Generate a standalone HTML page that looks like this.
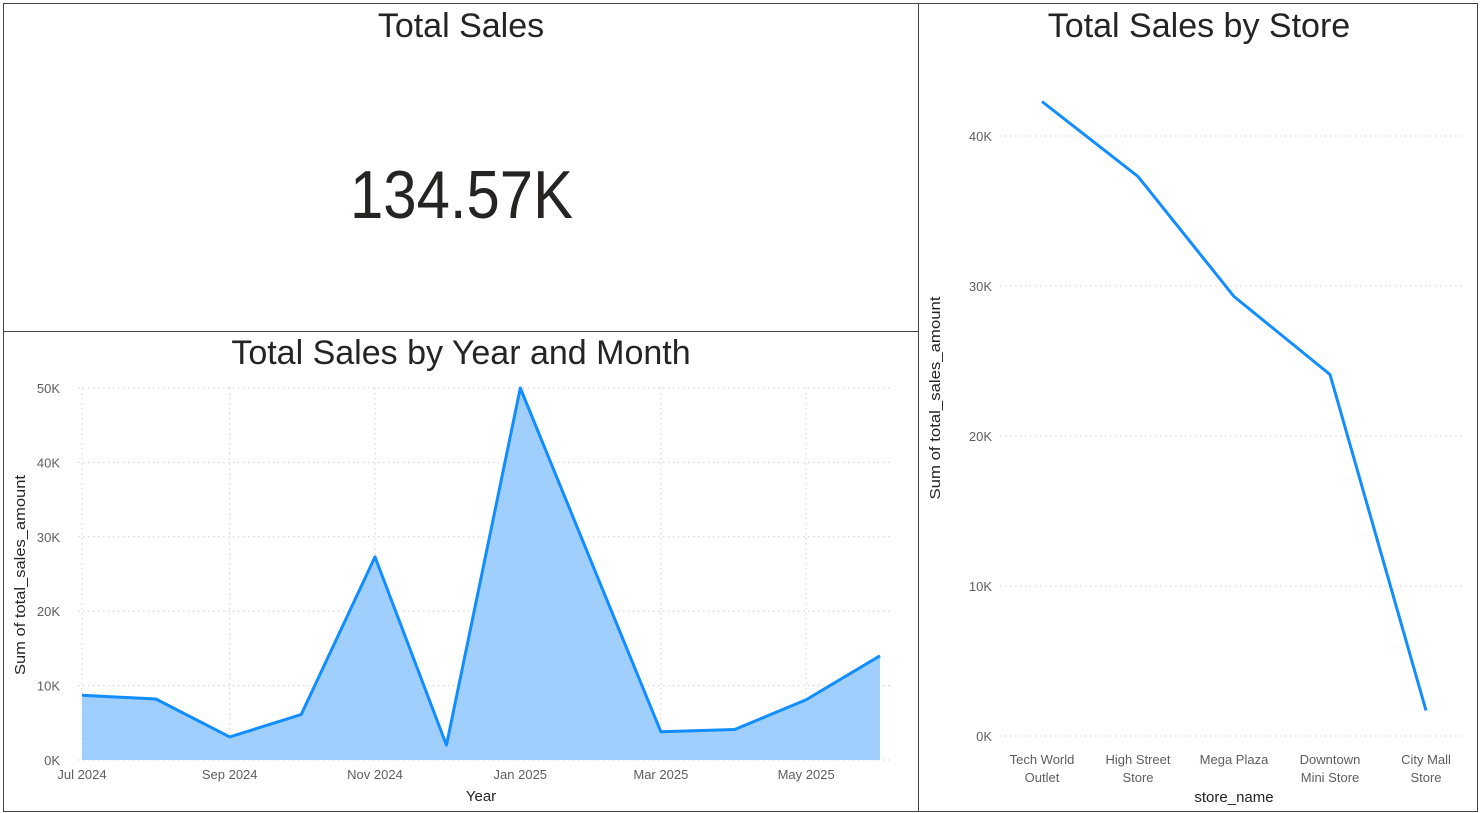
<!DOCTYPE html>
<html><head><meta charset="utf-8">
<style>
html,body{margin:0;padding:0;background:#fff;}
svg{display:block;font-family:"Liberation Sans",sans-serif;}
.title{font-family:"Liberation Sans Narrow","Liberation Sans",sans-serif;font-size:34px;fill:#252423;text-anchor:middle;}
.tick{font-size:13px;fill:#605e5c;}
.grid{stroke:#d0d0d0;stroke-width:1;stroke-dasharray:1.5 3.5;}
</style></head>
<body>
<svg id="svg" width="1480" height="813" viewBox="0 0 1480 813">
<rect x="3.5" y="3.5" width="915" height="328" fill="#fff" stroke="#444"/>
<rect x="3.5" y="331.5" width="915" height="480" fill="#fff" stroke="#444"/>
<rect x="918.5" y="3.5" width="559" height="808" fill="#fff" stroke="#444"/>
<text class="title" x="461" y="37">Total Sales</text>
<text x="350" y="218" textLength="223" lengthAdjust="spacingAndGlyphs" style="font-family:'Liberation Sans Narrow','Liberation Sans',sans-serif;font-size:68px;fill:#252423">134.57K</text>
<text class="title" x="461" y="364">Total Sales by Year and Month</text>
<text class="title" x="1199" y="37">Total Sales by Store</text>
<g id="left"></g>
<g id="right"></g>
</svg>
<script>
const months = ["Jul 2024","Aug 2024","Sep 2024","Oct 2024","Nov 2024","Dec 2024","Jan 2025","Feb 2025","Mar 2025","Apr 2025","May 2025","Jun 2025"];
const monthSales = [8.7,8.2,3.1,6.1,27.3,2.0,50.0,25.7,3.8,4.1,8.1,14.0];
const monthTicks = [0,10,20,30,40,50];
const monthLabelIdx = [0,2,4,6,8,10];
const stores = [["Tech World","Outlet"],["High Street","Store"],["Mega Plaza"],["Downtown","Mini Store"],["City Mall","Store"]];
const storeSales = [42.3,37.3,29.3,24.1,1.7];
const storeTicks = [0,10,20,30,40];

const NS="http://www.w3.org/2000/svg";
function mk(parent,tag,attrs,text){const e=document.createElementNS(NS,tag);for(const k in attrs)e.setAttribute(k,attrs[k]);if(text!==undefined)e.textContent=text;parent.appendChild(e);return e;}

// left chart - time axis by day
const dayOf=m=>{const d=new Date(m.replace(' ',' 1, '));return d.getTime()/86400000;};
const d0=dayOf(months[0]), d1=dayOf(months[months.length-1]);
const lx=i=>82+(dayOf(months[i])-d0)/(d1-d0)*(880-82);
const ly=v=>760-v*(372/50);
const L=document.getElementById('left');
monthTicks.forEach(t=>{
  const g=mk(L,'line',{x1:78,x2:892,y1:ly(t),y2:ly(t),class:'grid'});
  
  
  const tx=mk(L,'text',{x:60,y:ly(t)+5,class:'tick','text-anchor':'end'},t+'K');
  
  
});
monthLabelIdx.forEach(i=>{
  const g=mk(L,'line',{x1:lx(i),x2:lx(i),y1:388,y2:760,class:'grid'});
  
  
  const tx=mk(L,'text',{x:lx(i),y:779,class:'tick','text-anchor':'middle'},months[i]);
  
  
});
let pts=monthSales.map((v,i)=>lx(i)+','+ly(v)).join(' ');
const area=mk(L,'polygon',{points:lx(0)+','+ly(0)+' '+pts+' '+lx(months.length-1)+','+ly(0),fill:'#a0cffd'});


const line=mk(L,'polyline',{points:pts,fill:'none',stroke:'#118dff','stroke-width':3,'stroke-linejoin':'round'});


const xt=mk(L,'text',{x:481,y:801,'text-anchor':'middle','font-size':15,fill:'#252423'},'Year');


const yt=mk(L,'text',{x:0,y:0,'text-anchor':'middle','font-size':15,fill:'#252423',textLength:200,lengthAdjust:'spacingAndGlyphs',transform:'translate(25,575) rotate(-90)'},'Sum of total_sales_amount');



// right chart
const R=document.getElementById('right');
const rx=i=>1042+i*96;
const ry=v=>736-v*15;
storeTicks.forEach(t=>{
  const g=mk(R,'line',{x1:1000,x2:1464,y1:ry(t),y2:ry(t),class:'grid'});
  
  
  const tx=mk(R,'text',{x:992,y:ry(t)+5,class:'tick','text-anchor':'end'},t+'K');
  
  
});
stores.forEach((s,i)=>{
  s.forEach((ln,j)=>{
    const tx=mk(R,'text',{x:rx(i),y:764+j*18,class:'tick','text-anchor':'middle'},ln);
    
    
  });
});
const rl=mk(R,'polyline',{points:storeSales.map((v,i)=>rx(i)+','+ry(v)).join(' '),fill:'none',stroke:'#118dff','stroke-width':3,'stroke-linejoin':'round'});


const rxt=mk(R,'text',{x:1234,y:802,'text-anchor':'middle','font-size':15,fill:'#252423'},'store_name');


const ryt=mk(R,'text',{x:0,y:0,'text-anchor':'middle','font-size':15,fill:'#252423',textLength:203,lengthAdjust:'spacingAndGlyphs',transform:'translate(940,398) rotate(-90)'},'Sum of total_sales_amount');


</script>
</body></html>
